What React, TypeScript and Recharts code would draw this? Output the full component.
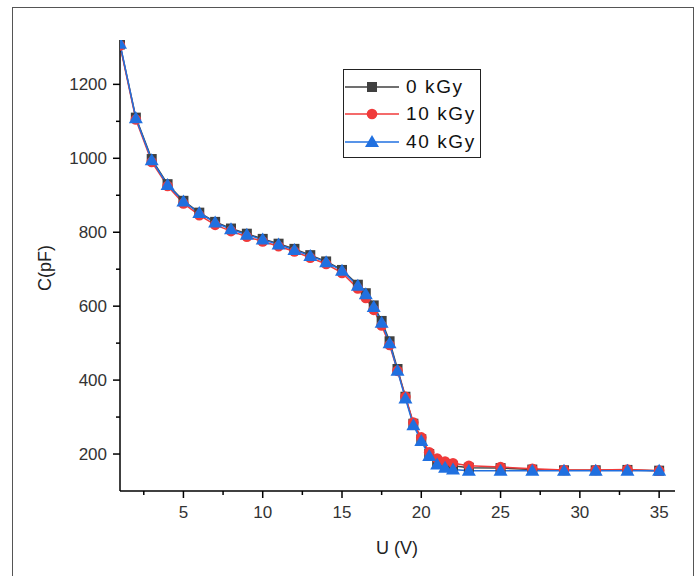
import { LineChart, Line, XAxis, YAxis, Legend } from "recharts";

// C-V curves after irradiation
const voltage = [1, 2, 3, 4, 5, 6, 7, 8, 9, 10, 11, 12, 13, 14, 15, 16, 16.5, 17, 17.5, 18, 18.5, 19, 19.5, 20, 20.5, 21, 21.5, 22, 23, 25, 27, 29, 31, 33, 35];
const c0kGy = [1308, 1110, 998, 930, 885, 853, 828, 810, 796, 782, 769, 755, 738, 721, 698, 658, 635, 602, 560, 505, 430, 355, 282, 240, 200, 180, 172, 168, 163, 162, 158, 156, 156, 157, 155];
const c10kGy = [1305, 1105, 990, 925, 878, 846, 820, 803, 788, 775, 762, 748, 731, 714, 690, 648, 622, 590, 548, 495, 425, 355, 285, 245, 205, 188, 180, 175, 168, 165, 160, 157, 157, 158, 155];
const c40kGy = [1310, 1108, 995, 928, 883, 852, 826, 808, 793, 780, 767, 752, 736, 719, 696, 655, 632, 598, 555, 500, 425, 350, 278, 235, 195, 172, 163, 158, 155, 155, 155, 155, 155, 155, 155];

const xMajor = [5, 10, 15, 20, 25, 30, 35];
const xMinor = [2.5, 7.5, 12.5, 17.5, 22.5, 27.5, 32.5];
const yMajor = [200, 400, 600, 800, 1000, 1200];
const yMinor = [300, 500, 700, 900, 1100];

const seriesNames = ["0 kGy", "10 kGy", "40 kGy"];
const seriesColors = ["#404040", "#f03a3a", "#2070e0"];

const data = voltage.map((u, i) => ({ u, c0: c0kGy[i], c10: c10kGy[i], c40: c40kGy[i] }));

const font = "'Liberation Sans', Arial, sans-serif";

function Marker({ kind, cx, cy, color }: { kind: number; cx: number; cy: number; color: string }) {
  if (kind === 0) return <rect x={cx - 5} y={cy - 5} width={10} height={10} fill={color} />;
  if (kind === 1) return <circle cx={cx} cy={cy} r={5.3} fill={color} />;
  return <polygon points={`${cx},${cy - 7} ${cx - 7},${cy + 5} ${cx + 7},${cy + 5}`} fill={color} />;
}

const dotFor = (kind: number) => (p: any) =>
  p.cx == null ? <g key={p.key} /> : <Marker key={p.key} kind={kind} cx={p.cx} cy={p.cy} color={seriesColors[kind]} />;

function XTick(props: any) {
  const { x, y, payload } = props;
  const major = xMajor.includes(payload.value);
  return (
    <g>
      <line x1={x} x2={x} y1={y} y2={y + (major ? 7 : 4)} stroke="#000" strokeWidth={1.5} />
      {major && (
        <text x={x} y={y + 27} textAnchor="middle" fontSize={17} fill="#333" fontFamily={font}>
          {payload.value}
        </text>
      )}
    </g>
  );
}

function YTick(props: any) {
  const { x, y, payload } = props;
  const major = yMajor.includes(payload.value);
  return (
    <g>
      <line x1={x} x2={x - (major ? 7 : 4)} y1={y} y2={y} stroke="#000" strokeWidth={1.5} />
      {major && (
        <text x={x - 13} y={y + 6} textAnchor="end" fontSize={17} fill="#333" fontFamily={font}>
          {payload.value}
        </text>
      )}
    </g>
  );
}

function LegendBox() {
  return (
    <div style={{ width: 138, height: 89, border: "1.5px solid #222", boxSizing: "border-box", background: "#fff", paddingTop: 3 }}>
      {seriesNames.map((name, i) => (
        <div key={name} style={{ display: "flex", alignItems: "center", height: 27.5 }}>
          <svg width={58} height={16} style={{ marginLeft: 1 }}>
            <line x1={0} x2={54} y1={8} y2={8} stroke={seriesColors[i]} strokeWidth={1.5} />
            <Marker kind={i} cx={27} cy={8} color={seriesColors[i]} />
          </svg>
          <span style={{ fontFamily: font, fontSize: 19, letterSpacing: 1.6, color: "#111", marginLeft: 3 }}>{name}</span>
        </div>
      ))}
    </div>
  );
}

export default function App() {
  return (
    <div style={{ position: "absolute", left: 0, top: 0, width: 699, height: 576, overflow: "hidden", background: "#fff" }}>
      <div style={{ position: "absolute", left: 12, top: 7, width: 682, height: 620, border: "1.5px solid #555", boxSizing: "border-box" }} />
      <LineChart width={699} height={576} data={data} margin={{ top: 40, right: 24, bottom: 0, left: 0 }}>
        <XAxis
          dataKey="u"
          type="number"
          domain={[1, 36]}
          allowDataOverflow
          ticks={[...xMinor, ...xMajor].sort((a, b) => a - b)}
          interval={0}
          tickSize={0}
          tickMargin={0}
          tickLine={false}
          tick={<XTick />}
          height={85}
          axisLine={{ stroke: "#000", strokeWidth: 1.5 }}
        />
        <YAxis
          type="number"
          domain={[100, 1320]}
          allowDataOverflow
          ticks={[...yMinor, ...yMajor].sort((a, b) => a - b)}
          interval={0}
          tickSize={0}
          tickMargin={0}
          tickLine={false}
          tick={<YTick />}
          width={120}
          axisLine={{ stroke: "#000", strokeWidth: 1.5 }}
        />
        <Legend
          layout="horizontal"
          verticalAlign="middle"
          align="center"
          content={() => <LegendBox />}
          wrapperStyle={{ position: "absolute", left: 343, top: 69, width: 138, height: 89 }}
        />
        <Line dataKey="c0" name={seriesNames[0]} stroke={seriesColors[0]} strokeWidth={1.5} dot={dotFor(0)} activeDot={false} isAnimationActive={false} />
        <Line dataKey="c10" name={seriesNames[1]} stroke={seriesColors[1]} strokeWidth={1.5} dot={dotFor(1)} activeDot={false} isAnimationActive={false} />
        <Line dataKey="c40" name={seriesNames[2]} stroke={seriesColors[2]} strokeWidth={1.5} dot={dotFor(2)} activeDot={false} isAnimationActive={false} />
      </LineChart>
      <div style={{ position: "absolute", left: 45, top: 268, transform: "translate(-50%, -50%) rotate(-90deg)", fontFamily: font, fontSize: 18, color: "#222", whiteSpace: "nowrap" }}>
        C(pF)
      </div>
      <div style={{ position: "absolute", left: 397, top: 548, transform: "translate(-50%, -50%)", fontFamily: font, fontSize: 18, color: "#222", whiteSpace: "nowrap" }}>
        U (V)
      </div>
    </div>
  );
}
